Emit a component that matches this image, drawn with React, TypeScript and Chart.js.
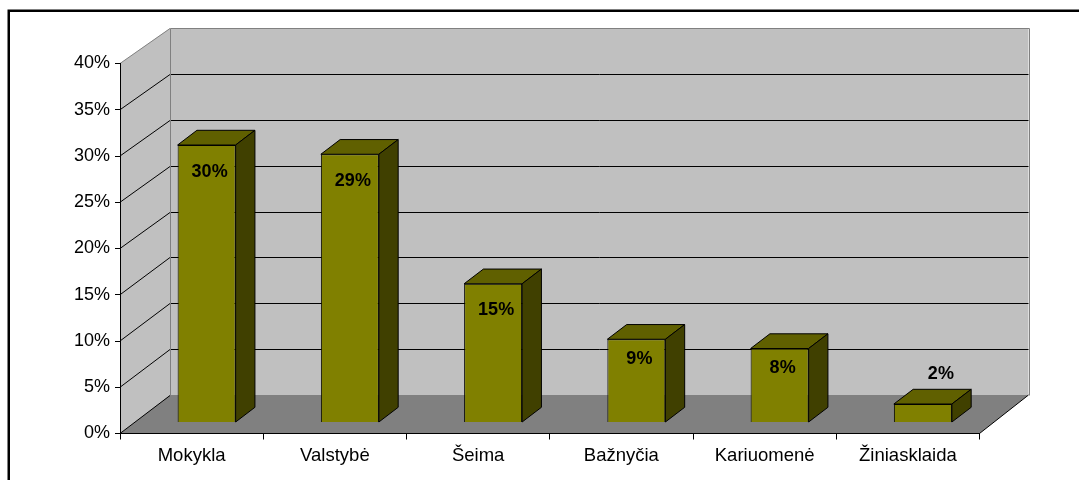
import React, { useEffect, useRef } from 'react';
import { Chart, registerables } from 'chart.js';

Chart.register(...registerables);

const categories = ['Mokykla', 'Valstybė', 'Šeima', 'Bažnyčia', 'Kariuomenė', 'Žiniasklaida'];
const values = [30, 29, 15, 9, 8, 2];
const yMin = 0;
const yMax = 40;
const yStep = 5;

const FONT = '"Liberation Sans", Arial, sans-serif';
const WALL_DX = 50;
const WALL_DY = -38.5;
const WALL_K = 0.991;
const BAR_DX = 15;
const BAR_DY = -11;
const BAR_SX = 19.3;
const BAR_SY = -14.7;

function poly(ctx: CanvasRenderingContext2D, pts: number[][], fill?: string, stroke?: string) {
  ctx.beginPath();
  ctx.moveTo(pts[0][0], pts[0][1]);
  for (let i = 1; i < pts.length; i++) ctx.lineTo(pts[i][0], pts[i][1]);
  ctx.closePath();
  if (fill) { ctx.fillStyle = fill; ctx.fill(); }
  if (stroke) { ctx.strokeStyle = stroke; ctx.lineWidth = 1; ctx.stroke(); }
}

function line(ctx: CanvasRenderingContext2D, x1: number, y1: number, x2: number, y2: number, color: string) {
  ctx.beginPath();
  ctx.moveTo(x1, y1);
  ctx.lineTo(x2, y2);
  ctx.strokeStyle = color;
  ctx.lineWidth = 1;
  ctx.stroke();
}

const threeD = {
  id: 'threeD',
  beforeDraw(chart: any) {
    const { ctx, chartArea: a } = chart;
    const y = chart.scales.y;
    const y0 = y.getPixelForValue(yMin);
    const back = (yf: number) => y0 + WALL_DY + (yf - y0) * WALL_K;
    ctx.save();
    // outer frame
    ctx.strokeStyle = '#000';
    ctx.lineWidth = 2.5;
    ctx.beginPath();
    ctx.moveTo(8.75, 480);
    ctx.lineTo(8.75, 10.75);
    ctx.lineTo(1079, 10.75);
    ctx.stroke();

    const bl = a.left + WALL_DX;
    const br = a.right + WALL_DX - 1;
    const topF = y.getPixelForValue(yMax);
    const topB = back(topF);
    const botB = back(y0);
    // side wall
    poly(ctx, [[a.left, topF], [bl, topB], [bl, botB], [a.left, y0]], '#C0C0C0');
    // back wall
    poly(ctx, [[bl, topB], [br, topB], [br, botB], [bl, botB]], '#C0C0C0');
    // floor
    poly(ctx, [[a.left, y0], [bl, botB], [br, botB], [a.right, y0]], '#808080');
    // gridlines
    for (let v = yMin; v <= yMax; v += yStep) {
      const yf = y.getPixelForValue(v);
      const yb = Math.round(back(yf)) + 0.5;
      const c = v === yMax ? '#808080' : '#000';
      line(ctx, a.left, yf, bl, yb, c);
      if (v > yMin && v < yMax) line(ctx, bl, yb, br, yb, '#000');
    }
    // back wall edges
    const tb = Math.round(topB) + 0.5;
    const bb = Math.round(botB) + 0.5;
    const blx = Math.round(bl) + 0.5;
    const brx = Math.round(br) + 0.5;
    line(ctx, blx, tb, brx, tb, '#808080');
    line(ctx, blx, tb, blx, bb, '#808080');
    line(ctx, brx, tb, brx, bb, '#808080');
    // floor right edge
    line(ctx, br, botB, a.right, y0, '#000');
    ctx.restore();
  },
  beforeDatasetsDraw(chart: any) {
    chart.ctx.save();
    chart.ctx.translate(BAR_DX, BAR_DY);
  },
  afterDatasetsDraw(chart: any) {
    const ctx = chart.ctx;
    const meta = chart.getDatasetMeta(0);
    meta.data.forEach((el: any, i: number) => {
      const { x, y: top, base, width } = el.getProps(['x', 'y', 'base', 'width'], true);
      const x1 = x - width / 2;
      const x2 = x + width / 2;
      poly(ctx, [[x1, top], [x1 + BAR_SX, top + BAR_SY], [x2 + BAR_SX, top + BAR_SY], [x2, top]], '#606000', '#000');
      poly(ctx, [[x2, top], [x2 + BAR_SX, top + BAR_SY], [x2 + BAR_SX, base + BAR_SY], [x2, base]], '#404000', '#000');
      // data label
      const h = base - top;
      ctx.font = 'bold 18px ' + FONT;
      ctx.fillStyle = '#000';
      ctx.textAlign = 'center';
      ctx.textBaseline = 'middle';
      const txt = values[i] + '%';
      if (h > 40) {
        ctx.fillText(txt, x + 3, top + Math.min(27, 12 + h * 0.1));
      } else {
        ctx.fillText(txt, x + 18, top - 30);
      }
    });
    ctx.restore();
  },
};

export default function App() {
  const ref = useRef<HTMLCanvasElement>(null);
  useEffect(() => {
    if (!ref.current) return;
    const chart = new Chart(ref.current, {
      type: 'bar',
      data: {
        labels: categories,
        datasets: [
          {
            data: values,
            backgroundColor: '#808000',
            borderColor: '#000',
            borderWidth: 1,
            categoryPercentage: 1,
            barPercentage: 0.405,
            clip: false as any,
          },
        ],
      },
      options: {
        responsive: false,
        animation: false,
        layout: { padding: { left: 0, top: 63.5, right: 99.5, bottom: 0 } },
        plugins: { legend: { display: false }, tooltip: { enabled: false } },
        scales: {
          x: {
            offset: true,
            grid: { offset: true, drawOnChartArea: false, drawTicks: true, tickLength: 6, color: '#000' },
            border: { color: '#000' },
            ticks: { color: '#000', font: { family: FONT, size: 18.5 }, padding: 5, maxRotation: 0, autoSkip: false },
            afterFit: (s: any) => { s.height = 46.5; },
          },
          y: {
            min: yMin,
            max: yMax,
            grid: { drawOnChartArea: false, drawTicks: true, tickLength: 5, color: '#000' },
            border: { color: '#000' },
            ticks: {
              stepSize: yStep,
              color: '#000',
              font: { family: FONT, size: 18 },
              padding: 5,
              callback: (v: any) => v + '%',
            },
            afterFit: (s: any) => { s.width = 120; },
          },
        },
      },
      plugins: [threeD],
    });
    return () => chart.destroy();
  }, []);
  return (
    <div style={{ position: 'absolute', left: 0, top: 0, width: 1079, height: 480, background: '#fff' }}>
      <canvas ref={ref} width={1079} height={480} style={{ display: 'block' }} />
    </div>
  );
}
